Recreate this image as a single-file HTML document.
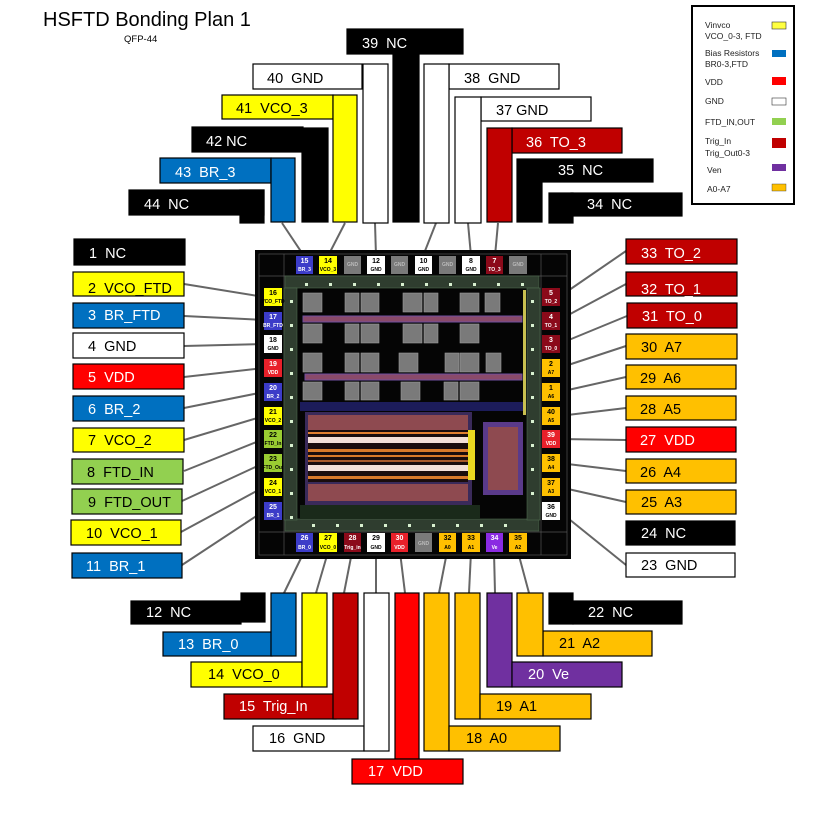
<!DOCTYPE html>
<html><head><meta charset="utf-8"><style>
html,body{margin:0;padding:0;background:#fff;}
svg{display:block;}
text{font-family:"Liberation Sans",Arial,sans-serif;white-space:pre;}
.l{font-size:14.5px;}
.pn{font-size:7px;font-weight:bold;text-anchor:middle;}
.pl{font-size:5px;font-weight:bold;text-anchor:middle;}
.lg{font-size:8.5px;fill:#222;}
</style></head><body>
<svg width="815" height="813" viewBox="0 0 815 813" xmlns="http://www.w3.org/2000/svg">
<rect width="815" height="813" fill="#fff"/>
<text x="43" y="26" style="font-size:20px">HSFTD Bonding Plan 1</text>
<text x="124" y="42" style="font-size:9.5px">QFP-44</text>

<!-- legend -->
<rect x="692" y="6" width="102" height="198" fill="#fff" stroke="#000" stroke-width="2"/>
<text class="lg" x="705" y="28">Vinvco</text><text class="lg" x="705" y="39">VCO_0-3, FTD</text>
<rect x="772" y="22" width="14" height="7" fill="#ffff40" stroke="#333" stroke-width="0.6"/>
<text class="lg" x="705" y="56">Bias Resistors</text><text class="lg" x="705" y="67">BR0-3,FTD</text>
<rect x="772" y="50" width="14" height="7" fill="#0070c0"/>
<text class="lg" x="705" y="85">VDD</text><rect x="772" y="77" width="14" height="8" fill="#ff0000"/>
<text class="lg" x="705" y="104">GND</text><rect x="772" y="98" width="14" height="7" fill="#fff" stroke="#333" stroke-width="0.6"/>
<text class="lg" x="705" y="125">FTD_IN,OUT</text><rect x="772" y="118" width="14" height="7" fill="#92d050"/>
<text class="lg" x="705" y="144">Trig_In</text><text class="lg" x="705" y="156">Trig_Out0-3</text>
<rect x="772" y="138" width="14" height="10" fill="#c00000"/>
<text class="lg" x="707" y="173">Ven</text><rect x="772" y="164" width="14" height="7" fill="#7030a0"/>
<text class="lg" x="707" y="192">A0-A7</text><rect x="772" y="184" width="14" height="7" fill="#ffc000" stroke="#333" stroke-width="0.4"/>

<!-- connectors -->
<g stroke="#666" stroke-width="2" fill="none">
<line x1="282" y1="223" x2="304" y2="256"/><line x1="345" y1="223" x2="328" y2="256"/>
<line x1="375" y1="223" x2="376" y2="256"/><line x1="436" y1="223" x2="423" y2="256"/>
<line x1="468" y1="223" x2="471" y2="256"/><line x1="498" y1="223" x2="495" y2="256"/>
<line x1="304" y1="552" x2="284" y2="593"/><line x1="328" y1="552" x2="316" y2="593"/>
<line x1="352" y1="552" x2="344" y2="593"/><line x1="376" y1="552" x2="376" y2="593"/>
<line x1="400" y1="552" x2="405" y2="593"/><line x1="447" y1="552" x2="439" y2="593"/>
<line x1="471" y1="552" x2="469" y2="593"/><line x1="494" y1="552" x2="495" y2="593"/>
<line x1="518" y1="552" x2="529" y2="593"/>
<line x1="184" y1="284" x2="264" y2="297"/><line x1="184" y1="316" x2="264" y2="320"/>
<line x1="184" y1="346" x2="264" y2="344"/><line x1="184" y1="377" x2="264" y2="368"/>
<line x1="184" y1="408" x2="264" y2="392"/><line x1="184" y1="440" x2="264" y2="416"/>
<line x1="184" y1="471" x2="264" y2="439"/><line x1="182" y1="501" x2="264" y2="463"/>
<line x1="181" y1="532" x2="264" y2="487"/><line x1="182" y1="565" x2="264" y2="511"/>
<line x1="559" y1="297" x2="626" y2="251"/><line x1="559" y1="320" x2="626" y2="284"/>
<line x1="559" y1="344" x2="627" y2="316"/><line x1="559" y1="368" x2="626" y2="346"/>
<line x1="559" y1="392" x2="626" y2="377"/><line x1="559" y1="416" x2="626" y2="408"/>
<line x1="559" y1="439" x2="626" y2="440"/><line x1="559" y1="463" x2="626" y2="471"/>
<line x1="559" y1="487" x2="626" y2="502"/><line x1="559" y1="511" x2="626" y2="565"/>
</g>

<!-- top pins -->
<g stroke="#000" stroke-width="1.2">
<rect x="347" y="29" width="116" height="25" fill="#000"/><rect x="393" y="54" width="26" height="168" fill="#000"/>
<rect x="253" y="64" width="109" height="25" fill="#fff"/><rect x="363" y="64" width="25" height="159" fill="#fff"/>
<rect x="222" y="95" width="111" height="24" fill="#ffff00"/><rect x="333" y="95" width="24" height="127" fill="#ffff00"/>
<rect x="192" y="127" width="111" height="25" fill="#000"/><rect x="302" y="128" width="26" height="94" fill="#000"/>
<rect x="160" y="158" width="111" height="25" fill="#0070c0"/><rect x="271" y="158" width="24" height="64" fill="#0070c0"/>
<rect x="129" y="190" width="135" height="25" fill="#000"/><rect x="240" y="190" width="24" height="33" fill="#000"/>
<rect x="449" y="64" width="110" height="25" fill="#fff"/><rect x="424" y="64" width="25" height="159" fill="#fff"/>
<rect x="481" y="97" width="110" height="24" fill="#fff"/><rect x="455" y="97" width="26" height="126" fill="#fff"/>
<rect x="512" y="128" width="110" height="25" fill="#c00000"/><rect x="487" y="128" width="25" height="94" fill="#c00000"/>
<rect x="543" y="159" width="110" height="23" fill="#000"/><rect x="517" y="159" width="25" height="63" fill="#000"/>
<rect x="571" y="193" width="111" height="23" fill="#000"/><rect x="549" y="193" width="24" height="30" fill="#000"/>
</g>
<g class="l">
<text x="362" y="48" fill="#fff">39  NC</text>
<text x="267" y="83">40  GND</text>
<text x="236" y="113">41  VCO_3</text>
<text x="206" y="146" fill="#fff">42 NC</text>
<text x="175" y="177" fill="#fff">43  BR_3</text>
<text x="144" y="209" fill="#fff">44  NC</text>
<text x="464" y="83">38  GND</text>
<text x="496" y="115">37 GND</text>
<text x="526" y="147" fill="#fff">36  TO_3</text>
<text x="558" y="175" fill="#fff">35  NC</text>
<text x="587" y="209" fill="#fff">34  NC</text>
</g>

<!-- bottom pins -->
<g stroke="#000" stroke-width="1.2">
<rect x="131" y="601" width="110" height="23" fill="#000"/><rect x="241" y="593" width="24" height="29" fill="#000"/>
<rect x="163" y="632" width="109" height="24" fill="#0070c0"/><rect x="271" y="593" width="25" height="63" fill="#0070c0"/>
<rect x="191" y="662" width="111" height="25" fill="#ffff00"/><rect x="302" y="593" width="25" height="94" fill="#ffff00"/>
<rect x="224" y="694" width="112" height="25" fill="#c00000"/><rect x="333" y="593" width="25" height="126" fill="#c00000"/>
<rect x="253" y="726" width="111" height="25" fill="#fff"/><rect x="364" y="593" width="25" height="158" fill="#fff"/>
<rect x="395" y="593" width="24" height="166" fill="#ff0000"/><rect x="352" y="759" width="111" height="25" fill="#ff0000"/>
<rect x="424" y="593" width="25" height="158" fill="#ffc000"/><rect x="449" y="726" width="111" height="25" fill="#ffc000"/>
<rect x="455" y="593" width="25" height="126" fill="#ffc000"/><rect x="480" y="694" width="111" height="25" fill="#ffc000"/>
<rect x="487" y="593" width="25" height="94" fill="#7030a0"/><rect x="512" y="662" width="110" height="25" fill="#7030a0"/>
<rect x="543" y="631" width="109" height="25" fill="#ffc000"/><rect x="517" y="593" width="26" height="63" fill="#ffc000"/>
<rect x="549" y="593" width="24" height="31" fill="#000"/><rect x="573" y="601" width="109" height="23" fill="#000"/>
</g>
<g class="l">
<text x="146" y="617" fill="#fff">12  NC</text>
<text x="178" y="649" fill="#fff">13  BR_0</text>
<text x="208" y="679">14  VCO_0</text>
<text x="239" y="711" fill="#fff">15  Trig_In</text>
<text x="269" y="743">16  GND</text>
<text x="368" y="776" fill="#fff">17  VDD</text>
<text x="466" y="743">18  A0</text>
<text x="496" y="711">19  A1</text>
<text x="528" y="679" fill="#fff">20  Ve</text>
<text x="559" y="648">21  A2</text>
<text x="588" y="617" fill="#fff">22  NC</text>
</g>

<!-- left pins -->
<g stroke="#000" stroke-width="1.2">
<rect x="74" y="239" width="111" height="26" fill="#000"/>
<rect x="73" y="272" width="111" height="24" fill="#ffff00"/>
<rect x="73" y="303" width="111" height="25" fill="#0070c0"/>
<rect x="73" y="333" width="111" height="25" fill="#fff"/>
<rect x="73" y="364" width="111" height="25" fill="#ff0000"/>
<rect x="73" y="396" width="111" height="25" fill="#0070c0"/>
<rect x="73" y="428" width="111" height="24" fill="#ffff00"/>
<rect x="72" y="459" width="111" height="25" fill="#92d050"/>
<rect x="72" y="489" width="110" height="25" fill="#92d050"/>
<rect x="71" y="520" width="110" height="25" fill="#ffff00"/>
<rect x="72" y="553" width="110" height="25" fill="#0070c0"/>
</g>
<g class="l">
<text x="89" y="258" fill="#fff">1  NC</text>
<text x="88" y="293">2  VCO_FTD</text>
<text x="88" y="320" fill="#fff">3  BR_FTD</text>
<text x="88" y="351">4  GND</text>
<text x="88" y="382" fill="#fff">5  VDD</text>
<text x="88" y="414" fill="#fff">6  BR_2</text>
<text x="88" y="445">7  VCO_2</text>
<text x="87" y="477">8  FTD_IN</text>
<text x="88" y="507">9  FTD_OUT</text>
<text x="86" y="538">10  VCO_1</text>
<text x="86" y="571" fill="#fff">11  BR_1</text>
</g>

<!-- right pins -->
<g stroke="#000" stroke-width="1.2">
<rect x="626" y="239" width="111" height="25" fill="#c00000"/>
<rect x="626" y="272" width="111" height="24" fill="#c00000"/>
<rect x="627" y="303" width="110" height="25" fill="#c00000"/>
<rect x="626" y="334" width="111" height="25" fill="#ffc000"/>
<rect x="626" y="365" width="110" height="24" fill="#ffc000"/>
<rect x="626" y="396" width="110" height="24" fill="#ffc000"/>
<rect x="626" y="427" width="110" height="25" fill="#ff0000"/>
<rect x="626" y="459" width="110" height="24" fill="#ffc000"/>
<rect x="626" y="490" width="110" height="24" fill="#ffc000"/>
<rect x="626" y="521" width="109" height="24" fill="#000"/>
<rect x="626" y="553" width="109" height="24" fill="#fff"/>
</g>
<g class="l">
<text x="641" y="258" fill="#fff">33  TO_2</text>
<text x="641" y="294" fill="#fff">32  TO_1</text>
<text x="642" y="321" fill="#fff">31  TO_0</text>
<text x="641" y="352">30  A7</text>
<text x="640" y="383">29  A6</text>
<text x="640" y="414">28  A5</text>
<text x="640" y="445" fill="#fff">27  VDD</text>
<text x="640" y="477">26  A4</text>
<text x="641" y="507">25  A3</text>
<text x="641" y="538" fill="#fff">24  NC</text>
<text x="641" y="570">23  GND</text>
</g>

<!-- chip -->
<rect x="255" y="250" width="316" height="309" fill="#050505"/>
<g stroke="#555" stroke-width="0.7" fill="none">
<rect x="259" y="254" width="308" height="301"/>
<line x1="259" y1="276" x2="567" y2="276"/><line x1="259" y1="532" x2="567" y2="532"/>
<line x1="284" y1="254" x2="284" y2="555"/><line x1="541" y1="254" x2="541" y2="555"/>
</g>
<!-- inner pad ring -->
<g fill="#2f3d2f" stroke="#4d6a4d" stroke-width="0.6">
<rect x="285" y="276" width="254" height="12"/>
<rect x="285" y="519" width="254" height="12"/>
<rect x="284" y="288" width="13" height="232"/>
<rect x="527" y="288" width="13" height="232"/>
</g>
<g fill="#d8f0d0">
<rect x="305" y="283" width="3" height="3"/><rect x="329" y="283" width="3" height="3"/><rect x="353" y="283" width="3" height="3"/><rect x="377" y="283" width="3" height="3"/><rect x="401" y="283" width="3" height="3"/><rect x="425" y="283" width="3" height="3"/><rect x="449" y="283" width="3" height="3"/><rect x="473" y="283" width="3" height="3"/><rect x="497" y="283" width="3" height="3"/><rect x="521" y="283" width="3" height="3"/>
<rect x="312" y="524" width="3" height="3"/><rect x="336" y="524" width="3" height="3"/><rect x="360" y="524" width="3" height="3"/><rect x="384" y="524" width="3" height="3"/><rect x="408" y="524" width="3" height="3"/><rect x="432" y="524" width="3" height="3"/><rect x="456" y="524" width="3" height="3"/><rect x="480" y="524" width="3" height="3"/><rect x="504" y="524" width="3" height="3"/>
<rect x="290" y="300" width="3" height="3"/><rect x="290" y="324" width="3" height="3"/><rect x="290" y="348" width="3" height="3"/><rect x="290" y="372" width="3" height="3"/><rect x="290" y="396" width="3" height="3"/><rect x="290" y="420" width="3" height="3"/><rect x="290" y="444" width="3" height="3"/><rect x="290" y="468" width="3" height="3"/><rect x="290" y="492" width="3" height="3"/><rect x="290" y="516" width="3" height="3"/>
<rect x="531" y="300" width="3" height="3"/><rect x="531" y="324" width="3" height="3"/><rect x="531" y="348" width="3" height="3"/><rect x="531" y="372" width="3" height="3"/><rect x="531" y="396" width="3" height="3"/><rect x="531" y="420" width="3" height="3"/><rect x="531" y="444" width="3" height="3"/><rect x="531" y="468" width="3" height="3"/><rect x="531" y="492" width="3" height="3"/>
</g>
<!-- interior blocks -->
<g fill="#7a7a7a" stroke="#9a9a9a" stroke-width="0.6">
<rect x="303" y="293" width="19" height="19"/><rect x="345" y="293" width="14" height="19"/><rect x="361" y="293" width="18" height="19"/><rect x="403" y="293" width="19" height="19"/><rect x="424" y="293" width="14" height="19"/><rect x="460" y="293" width="19" height="19"/><rect x="485" y="293" width="15" height="19"/>
<rect x="303" y="324" width="19" height="19"/><rect x="345" y="324" width="14" height="19"/><rect x="361" y="324" width="18" height="19"/><rect x="403" y="324" width="19" height="19"/><rect x="424" y="324" width="14" height="19"/><rect x="460" y="324" width="19" height="19"/>
<rect x="303" y="353" width="19" height="19"/><rect x="345" y="353" width="14" height="19"/><rect x="361" y="353" width="18" height="19"/><rect x="399" y="353" width="19" height="19"/><rect x="445" y="353" width="14" height="19"/><rect x="460" y="353" width="19" height="19"/><rect x="486" y="353" width="15" height="19"/>
<rect x="303" y="382" width="19" height="18"/><rect x="345" y="382" width="14" height="18"/><rect x="361" y="382" width="18" height="18"/><rect x="401" y="382" width="19" height="18"/><rect x="444" y="382" width="14" height="18"/><rect x="460" y="382" width="19" height="18"/>
</g>
<rect x="303" y="316" width="219" height="6" fill="#8a4a6a" stroke="#7050a0" stroke-width="1"/>
<rect x="305" y="374" width="217" height="6" fill="#8a4a6a" stroke="#7050a0" stroke-width="1"/>
<rect x="300" y="402" width="225" height="9" fill="#1c1c5a"/>
<rect x="523" y="290" width="3" height="125" fill="#c8c050"/>
<!-- big array -->
<rect x="305" y="412" width="167" height="93" fill="#3a2a5a"/>
<rect x="308" y="415" width="160" height="15" fill="#8e4a50"/>
<rect x="308" y="430" width="160" height="52" fill="#1a0d0d"/>
<rect x="308" y="432" width="160" height="2" fill="#e08030"/>
<rect x="308" y="437" width="160" height="6" fill="#f3e0d8"/>
<rect x="308" y="449" width="160" height="3" fill="#d87a2a"/>
<rect x="308" y="455" width="160" height="2" fill="#d87a2a"/>
<rect x="308" y="460" width="160" height="2" fill="#a85a2a"/>
<rect x="308" y="465" width="160" height="6" fill="#f3e0d8"/>
<rect x="308" y="476" width="160" height="3" fill="#d87a2a"/>
<rect x="308" y="484" width="160" height="17" fill="#8e4a50"/>
<rect x="468" y="430" width="7" height="50" fill="#e8d820"/>
<rect x="483" y="422" width="40" height="73" fill="#5a3a8a"/>
<rect x="488" y="427" width="30" height="63" fill="#8e4a50"/>
<rect x="300" y="505" width="180" height="14" fill="#1a2a1a"/>

<!-- chip pads -->
<g>
<rect x="296" y="256" width="17" height="18" fill="#3c3cc8"/><text class="pn" x="304.5" y="263" fill="#fff">15</text><text class="pl" x="304.5" y="271" fill="#fff">BR_3</text>
<rect x="319" y="256" width="18" height="18" fill="#ffff00"/><text class="pn" x="328" y="263">14</text><text class="pl" x="328" y="271">VCO_3</text>
<rect x="344" y="256" width="17" height="18" fill="#7a7a7a"/><text class="pl" x="352.5" y="266" fill="#bbb">GND</text>
<rect x="367" y="256" width="18" height="18" fill="#fff"/><text class="pn" x="376" y="263">12</text><text class="pl" x="376" y="271">GND</text>
<rect x="391" y="256" width="17" height="18" fill="#7a7a7a"/><text class="pl" x="399.5" y="266" fill="#bbb">GND</text>
<rect x="415" y="256" width="17" height="18" fill="#fff"/><text class="pn" x="423.5" y="263">10</text><text class="pl" x="423.5" y="271">GND</text>
<rect x="439" y="256" width="17" height="18" fill="#7a7a7a"/><text class="pl" x="447.5" y="266" fill="#bbb">GND</text>
<rect x="462" y="256" width="18" height="18" fill="#fff"/><text class="pn" x="471" y="263">8</text><text class="pl" x="471" y="271">GND</text>
<rect x="486" y="256" width="17" height="18" fill="#8b0a1a"/><text class="pn" x="494.5" y="263" fill="#fff">7</text><text class="pl" x="494.5" y="271" fill="#fff">TO_3</text>
<rect x="509" y="256" width="18" height="18" fill="#7a7a7a"/><text class="pl" x="518" y="266" fill="#bbb">GND</text>

<rect x="296" y="533" width="17" height="19" fill="#3c3cc8"/><text class="pn" x="304.5" y="540" fill="#fff">26</text><text class="pl" x="304.5" y="549" fill="#fff">BR_0</text>
<rect x="319" y="533" width="18" height="19" fill="#ffff00"/><text class="pn" x="328" y="540">27</text><text class="pl" x="328" y="549">VCO_0</text>
<rect x="344" y="533" width="17" height="19" fill="#8b0a1a"/><text class="pn" x="352.5" y="540" fill="#fff">28</text><text class="pl" x="352.5" y="549" fill="#fff">Trig_in</text>
<rect x="367" y="533" width="18" height="19" fill="#fff"/><text class="pn" x="376" y="540">29</text><text class="pl" x="376" y="549">GND</text>
<rect x="391" y="533" width="17" height="19" fill="#e8202a"/><text class="pn" x="399.5" y="540" fill="#fff">30</text><text class="pl" x="399.5" y="549" fill="#fff">VDD</text>
<rect x="415" y="533" width="17" height="19" fill="#7a7a7a"/><text class="pl" x="423.5" y="545" fill="#bbb">GND</text>
<rect x="439" y="533" width="17" height="19" fill="#ffc000"/><text class="pn" x="447.5" y="540">32</text><text class="pl" x="447.5" y="549">A0</text>
<rect x="462" y="533" width="18" height="19" fill="#ffc000"/><text class="pn" x="471" y="540">33</text><text class="pl" x="471" y="549">A1</text>
<rect x="486" y="533" width="17" height="19" fill="#8a2be2"/><text class="pn" x="494.5" y="540" fill="#fff">34</text><text class="pl" x="494.5" y="549" fill="#fff">Ve</text>
<rect x="509" y="533" width="18" height="19" fill="#ffc000"/><text class="pn" x="518" y="540">35</text><text class="pl" x="518" y="549">A2</text>

<rect x="264" y="288" width="18" height="18" fill="#ffff00"/><text class="pn" x="273" y="295">16</text><text class="pl" x="273" y="303">VCO_FTD</text>
<rect x="264" y="312" width="18" height="18" fill="#3c3cc8"/><text class="pn" x="273" y="319" fill="#fff">17</text><text class="pl" x="273" y="327" fill="#fff">BR_FTD</text>
<rect x="264" y="335" width="18" height="18" fill="#fff"/><text class="pn" x="273" y="342">18</text><text class="pl" x="273" y="350">GND</text>
<rect x="264" y="359" width="18" height="18" fill="#e8202a"/><text class="pn" x="273" y="366" fill="#fff">19</text><text class="pl" x="273" y="374" fill="#fff">VDD</text>
<rect x="264" y="383" width="18" height="18" fill="#3c3cc8"/><text class="pn" x="273" y="390" fill="#fff">20</text><text class="pl" x="273" y="398" fill="#fff">BR_2</text>
<rect x="264" y="407" width="18" height="18" fill="#ffff00"/><text class="pn" x="273" y="414">21</text><text class="pl" x="273" y="422">VCO_2</text>
<rect x="264" y="430" width="18" height="18" fill="#9acd32"/><text class="pn" x="273" y="437">22</text><text class="pl" x="273" y="445">FTD_In</text>
<rect x="264" y="454" width="18" height="18" fill="#9acd32"/><text class="pn" x="273" y="461">23</text><text class="pl" x="273" y="469">FTD_Out</text>
<rect x="264" y="478" width="18" height="18" fill="#ffff00"/><text class="pn" x="273" y="485">24</text><text class="pl" x="273" y="493">VCO_1</text>
<rect x="264" y="502" width="18" height="18" fill="#3c3cc8"/><text class="pn" x="273" y="509" fill="#fff">25</text><text class="pl" x="273" y="517" fill="#fff">BR_1</text>

<rect x="542" y="288" width="18" height="18" fill="#8b0a1a"/><text class="pn" x="551" y="295" fill="#fff">5</text><text class="pl" x="551" y="303" fill="#fff">TO_2</text>
<rect x="542" y="312" width="18" height="18" fill="#8b0a1a"/><text class="pn" x="551" y="319" fill="#fff">4</text><text class="pl" x="551" y="327" fill="#fff">TO_1</text>
<rect x="542" y="335" width="18" height="18" fill="#8b0a1a"/><text class="pn" x="551" y="342" fill="#fff">3</text><text class="pl" x="551" y="350" fill="#fff">TO_0</text>
<rect x="542" y="359" width="18" height="18" fill="#ffc000"/><text class="pn" x="551" y="366">2</text><text class="pl" x="551" y="374">A7</text>
<rect x="542" y="383" width="18" height="18" fill="#ffc000"/><text class="pn" x="551" y="390">1</text><text class="pl" x="551" y="398">A6</text>
<rect x="542" y="407" width="18" height="18" fill="#ffc000"/><text class="pn" x="551" y="414">40</text><text class="pl" x="551" y="422">A5</text>
<rect x="542" y="430" width="18" height="18" fill="#e8202a"/><text class="pn" x="551" y="437" fill="#fff">39</text><text class="pl" x="551" y="445" fill="#fff">VDD</text>
<rect x="542" y="454" width="18" height="18" fill="#ffc000"/><text class="pn" x="551" y="461">38</text><text class="pl" x="551" y="469">A4</text>
<rect x="542" y="478" width="18" height="18" fill="#ffc000"/><text class="pn" x="551" y="485">37</text><text class="pl" x="551" y="493">A3</text>
<rect x="542" y="502" width="18" height="18" fill="#fff"/><text class="pn" x="551" y="509">36</text><text class="pl" x="551" y="517">GND</text>
</g>
</svg>
</body></html>
